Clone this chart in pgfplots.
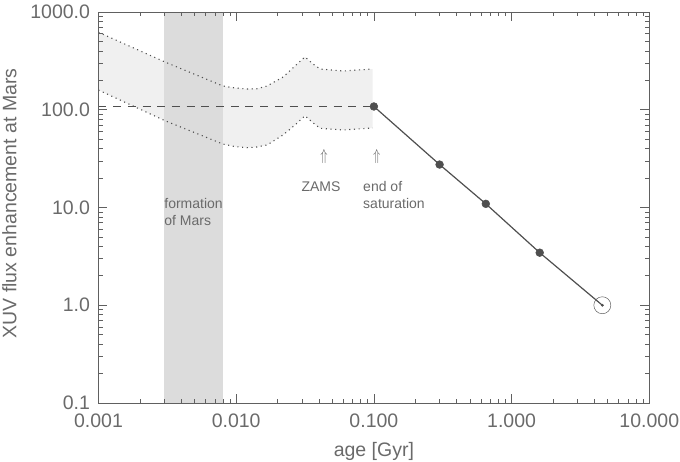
\documentclass[border=0pt]{standalone}
\usepackage{fontspec}
\setmainfont{Liberation Sans}
\usepackage{pgfplots}
\pgfplotsset{compat=1.18}
\definecolor{axisgray}{HTML}{606060}
\definecolor{textgray}{HTML}{6A6A6A}
\definecolor{linegray}{HTML}{4F4F4F}
\definecolor{bandlight}{HTML}{F0F0F0}
\definecolor{banddark}{HTML}{DCDCDC}

\begin{document}
\begin{tikzpicture}
  \path[use as bounding box] (-98.5bp,-59bp) rectangle (581.5bp,403bp);
  \begin{axis}[
    scale only axis,
    width=550.8bp, height=391bp,
    xmode=log, ymode=log,
    xmin=0.001, xmax=10,
    ymin=0.1, ymax=1000,
    xtick={0.001,0.01,0.1,1,10},
    xticklabels={0.001,0.010,0.100,1.000,10.000},
    ytick={0.1,1,10,100,1000},
    yticklabels={0.1,1.0,10.0,100.0,1000.0},
    minor xtick={0.002,0.003,0.004,0.005,0.006,0.007,0.008,0.009,
      0.02,0.03,0.04,0.05,0.06,0.07,0.08,0.09,
      0.2,0.3,0.4,0.5,0.6,0.7,0.8,0.9,
      2,3,4,5,6,7,8,9},
    minor ytick={0.2,0.3,0.4,0.5,0.6,0.7,0.8,0.9,
      2,3,4,5,6,7,8,9,
      20,30,40,50,60,70,80,90,
      200,300,400,500,600,700,800,900},
    axis line style={axisgray, line width=0.9bp},
    every tick/.style={axisgray, line width=0.7bp},
    xtick align=inside, ytick align=inside,
    major tick length=9bp, minor tick length=4.5bp,
    tick label style={font=\fontsize{19.5bp}{21bp}\selectfont, text=textgray},
    xticklabel style={yshift=-7bp},
    yticklabel style={xshift=-5bp},
    label style={font=\fontsize{19.5bp}{21bp}\selectfont, text=textgray},
    xlabel={age [Gyr]},
    ylabel={XUV flux enhancement at Mars},
    xlabel style={yshift=-8bp},
    ylabel style={yshift=7bp, xshift=4bp},
    axis on top,
    clip=false,
  ]
    % saturation spread
    \addplot[fill=bandlight, draw=none] coordinates {
      (0.001,620)(0.00304,308)(0.008,175)(0.0098,167)(0.01197,163)(0.01416,164)(0.01676,175)
      (0.0219,216)(0.0267,280)(0.0316,347)(0.0361,294)(0.0407,261)(0.0597,249)(0.098,261)
      (0.098,65.1)(0.0597,62.1)(0.0407,64.6)(0.0355,75)(0.0316,86.9)(0.0267,69.8)(0.0219,55.2)
      (0.01676,43.6)(0.01416,41.6)(0.01197,40.9)(0.0098,42)(0.008,44.6)(0.00304,77.3)(0.001,159)
    } -- cycle;
    % formation of Mars
    \addplot[fill=banddark, draw=none] coordinates {
      (0.003,0.1)(0.008,0.1)(0.008,1000)(0.003,1000)
    } -- cycle;

    \addplot[linegray, line width=1.1bp, dash pattern=on 1.1bp off 3.6bp] coordinates {
      (0.001,620)(0.00304,308)(0.008,175)(0.0098,167)(0.01197,163)(0.01416,164)(0.01676,175)
      (0.0219,216)(0.0267,280)(0.0316,347)(0.0361,294)(0.0407,261)(0.0597,249)(0.098,261)
    };
    \addplot[linegray, line width=1.1bp, dash pattern=on 1.1bp off 3.6bp] coordinates {
      (0.001,159)(0.00304,77.3)(0.008,44.6)(0.0098,42)(0.01197,40.9)(0.01416,41.6)(0.01676,43.6)
      (0.0219,55.2)(0.0267,69.8)(0.0316,86.9)(0.0355,75)(0.0407,64.6)(0.0597,62.1)(0.098,65.1)
    };
    \addplot[linegray, line width=1.2bp, dash pattern=on 8bp off 6.7bp] coordinates {
      (0.001,108)(0.1,108)
    };
    \addplot[linegray, line width=1.2bp, mark=*, mark size=3.9bp,
      mark options={fill=linegray, draw=linegray, solid, line width=0.5bp}] coordinates {
      (0.1,108)(0.3,27.5)(0.65,10.9)(1.6,3.45)
    };
    \addplot[linegray, line width=1.2bp] coordinates {(1.6,3.45)(4.56,1)};
    \addplot[only marks, mark=*, mark size=1.2bp, mark options={fill=linegray, draw=linegray}]
      coordinates {(4.56,1)};
    \addplot[only marks, mark=o, mark size=8.5bp, mark options={draw=axisgray, line width=0.5bp}]
      coordinates {(4.56,1)};

    \node[text=axisgray, xscale=1.2, yscale=1.6] at (axis cs:0.0435,32.9) {$\Uparrow$};
    \node[text=axisgray, xscale=1.2, yscale=1.6] at (axis cs:0.105,32.9) {$\Uparrow$};
    \node[text=textgray, font=\fontsize{14bp}{17bp}\selectfont] at (axis cs:0.0413,16.2) {ZAMS};
    \node[text=textgray, font=\fontsize{14bp}{17bp}\selectfont, align=left, anchor=west, inner sep=0pt]
      at (axis cs:0.0834,13.3) {end of\\saturation};
    \node[text=textgray, font=\fontsize{14bp}{17bp}\selectfont, align=left, anchor=west, inner sep=0pt]
      at (axis cs:0.003,9.1) {formation\\of Mars};
  \end{axis}
\end{tikzpicture}
\end{document}
